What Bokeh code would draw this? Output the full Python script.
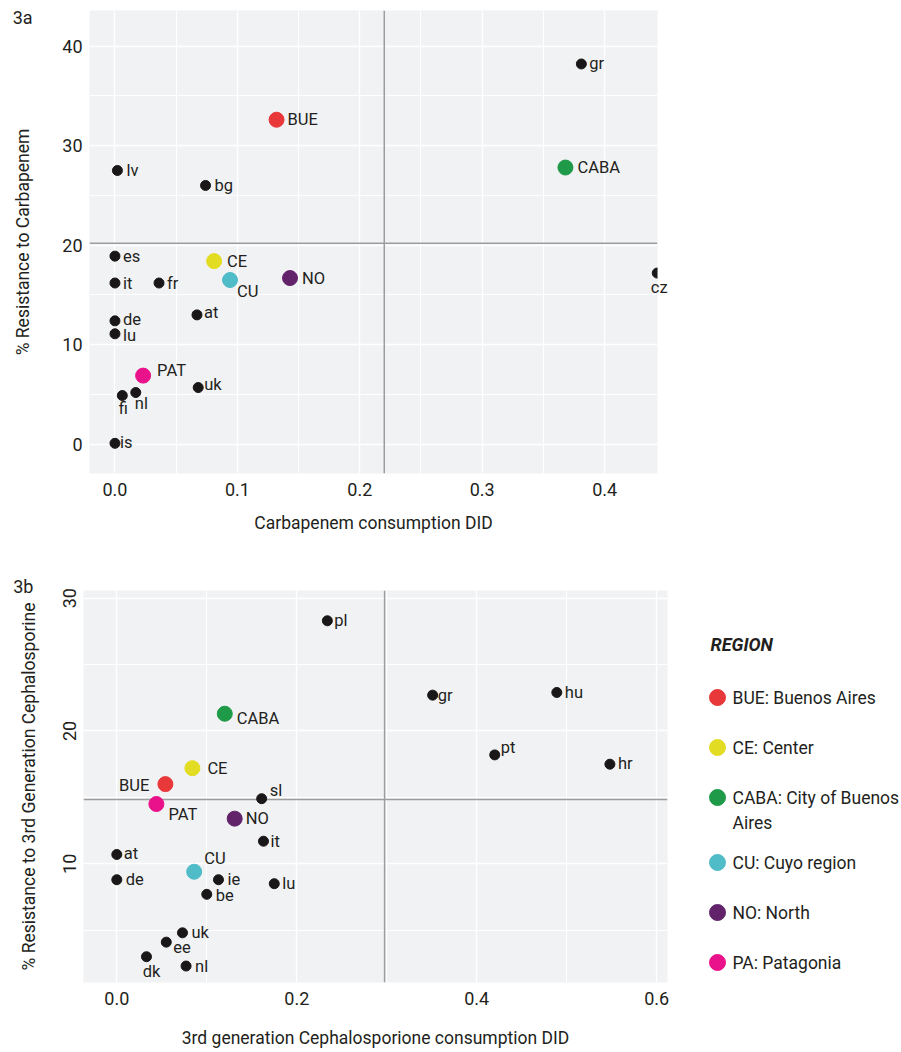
import textwrap
from bokeh.plotting import figure
from bokeh.models import (ColumnDataSource, LabelSet, Label, Span, FixedTicker,
                          NumeralTickFormatter, Range1d)
from bokeh.layouts import column, row
from bokeh.core.properties import value
from bokeh.embed import file_html
from bokeh.resources import INLINE

# ---------------- data ----------------
# Figure 3a: Carbapenem
eu_a_codes = ["gr", "lv", "bg", "cz", "es", "it", "fr", "at", "de", "lu", "uk", "fi", "nl", "is"]
eu_a_x = [0.381, 0.002, 0.074, 0.443, 0.0, 0.0, 0.036, 0.067, 0.0, 0.0, 0.068, 0.006, 0.017, 0.0]
eu_a_y = [38.2, 27.5, 26.0, 17.2, 18.9, 16.2, 16.2, 13.0, 12.4, 11.1, 5.7, 4.9, 5.2, 0.1]
ar_a_codes = ["BUE", "CABA", "CE", "CU", "NO", "PAT"]
ar_a_x = [0.132, 0.368, 0.081, 0.094, 0.143, 0.023]
ar_a_y = [32.6, 27.8, 18.4, 16.5, 16.7, 6.9]
ref_a_x = 0.22
ref_a_y = 20.2
xticks_a = [0.0, 0.1, 0.2, 0.3, 0.4]
xminor_a = [0.05, 0.15, 0.25, 0.35]
yticks_a = [0, 10, 20, 30, 40]
yminor_a = [5, 15, 25, 35]

# Figure 3b: 3rd generation Cephalosporine
eu_b_codes = ["pl", "gr", "hu", "pt", "hr", "sl", "it", "at", "de", "ie", "lu", "be", "uk", "ee", "dk", "nl"]
eu_b_x = [0.234, 0.351, 0.489, 0.420, 0.548, 0.161, 0.163, 0.0, 0.0, 0.113, 0.175, 0.100, 0.073, 0.055, 0.033, 0.077]
eu_b_y = [28.3, 22.7, 22.9, 18.2, 17.5, 14.9, 11.7, 10.7, 8.8, 8.8, 8.5, 7.7, 4.8, 4.1, 3.0, 2.3]
ar_b_codes = ["CABA", "CE", "BUE", "PAT", "NO", "CU"]
ar_b_x = [0.120, 0.084, 0.054, 0.044, 0.131, 0.086]
ar_b_y = [21.3, 17.2, 16.0, 14.5, 13.4, 9.4]
ref_b_x = 0.2976
ref_b_y = 14.85
xticks_b = [0.0, 0.2, 0.4, 0.6]
xminor_b = [0.1, 0.3, 0.5]
yticks_b = [10, 20, 30]
yminor_b = [5, 15, 25]

# Regions (legend)
region_codes = ["BUE", "CE", "CABA", "CU", "NO", "PAT"]
region_labels = ["BUE: Buenos Aires", "CE: Center", "CABA: City of Buenos Aires",
                 "CU: Cuyo region", "NO: North", "PA: Patagonia"]
region_colors = ["#e8383a", "#e2dc22", "#1e9a48", "#4fbcc8", "#62236b", "#ea128a"]

# ---------------- styles ----------------
FONT = "Roboto"
INK = "#231f20"
PANEL = "#f1f2f4"
REF = "#9d9d9d"

# label placement: (dx, dy_down, align) in screen px
place_a = {"gr": (8, 0, "left"), "lv": (9, 0, "left"), "bg": (9, 0, "left"),
           "cz": (2, 14, "center"), "es": (8, 0, "left"), "it": (8, 0, "left"),
           "fr": (8, 0, "left"), "at": (7, -2, "left"), "de": (8, -1, "left"),
           "lu": (8, 2, "left"), "uk": (6, -3, "left"), "fi": (1, 13, "center"),
           "nl": (-1, 11, "left"), "is": (5, -1, "left"),
           "BUE": (11, 0, "left"), "CABA": (12, 0, "left"), "CE": (13, 0, "left"),
           "CU": (7, 11, "left"), "NO": (12, 0, "left"), "PAT": (14, -5, "left")}
place_b = {"pl": (7, 0, "left"), "gr": (5, 0, "left"), "hu": (8, 0, "left"),
           "pt": (6, -7, "left"), "hr": (8, -1, "left"), "sl": (8, -8, "left"),
           "it": (7, 0, "left"), "at": (7, -1, "left"), "de": (9, 0, "left"),
           "ie": (9, 0, "left"), "lu": (8, 0, "left"), "be": (9, 1, "left"),
           "uk": (9, 0, "left"), "ee": (7, 5, "left"), "dk": (5, 15, "center"),
           "nl": (9, 0, "left"),
           "CABA": (12, 5, "left"), "CE": (15, 0, "left"), "BUE": (-16, 1, "right"),
           "PAT": (12, 10, "left"), "NO": (11, 0, "left"), "CU": (10, -13, "left")}
# labels drawn outside the panel frame (not clipped)
edge_codes = ["cz"]


def style_axes(p, xt, xm, yt, ym, xfmt, yfmt):
    xtick = FixedTicker(ticks=xt, minor_ticks=xm)
    ytick = FixedTicker(ticks=yt, minor_ticks=ym)
    p.xaxis.ticker = xtick
    p.xgrid.ticker = xtick
    p.yaxis.ticker = ytick
    p.ygrid.ticker = ytick
    p.xaxis.formatter = NumeralTickFormatter(format=xfmt)
    p.yaxis.formatter = NumeralTickFormatter(format=yfmt)
    for ax in (p.xaxis, p.yaxis):
        ax.axis_line_color = None
        ax.major_tick_line_color = None
        ax.minor_tick_line_color = None
        ax.major_tick_out = 0
        ax.major_tick_in = 0
        ax.minor_tick_out = 0
        ax.minor_tick_in = 0
        ax.major_label_text_font = FONT
        ax.major_label_text_font_size = "18px"
        ax.major_label_text_color = INK
        ax.axis_label_text_font = FONT
        ax.axis_label_text_font_size = "17.5px"
        ax.axis_label_text_font_style = "normal"
        ax.axis_label_text_color = INK
    for g in (p.xgrid, p.ygrid):
        g.grid_line_color = "white"
        g.grid_line_width = 1.3
        g.minor_grid_line_color = "white"
        g.minor_grid_line_width = 1.0
    p.background_fill_color = PANEL
    p.border_fill_color = "white"
    p.outline_line_color = None


def add_points(p, eu_codes, eu_x, eu_y, ar_codes, ar_x, ar_y, place, refx, refy):
    p.add_layout(Span(location=refx, dimension="height", line_color=REF,
                      line_width=1.5, level="underlay"))
    p.add_layout(Span(location=refy, dimension="width", line_color=REF,
                      line_width=1.5, level="underlay"))
    p.scatter(eu_x, eu_y, size=10, color="#1a1718")
    cols = [region_colors[region_codes.index(c)] for c in ar_codes]
    p.scatter(ar_x, ar_y, size=15, color=cols)
    codes = eu_codes + ar_codes
    xs = eu_x + ar_x
    ys = eu_y + ar_y
    keep = [i for i, c in enumerate(codes) if c not in edge_codes]
    src = ColumnDataSource(dict(
        x=[xs[i] for i in keep], y=[ys[i] for i in keep],
        t=[codes[i] for i in keep],
        dx=[place[codes[i]][0] for i in keep],
        dy=[-place[codes[i]][1] for i in keep],
        al=[place[codes[i]][2] for i in keep]))
    p.add_layout(LabelSet(x="x", y="y", text="t", source=src, x_offset="dx",
                          y_offset="dy", text_align="al", text_baseline="middle",
                          text_font=value(FONT), text_font_size="16.5px",
                          text_color=INK))
    for i, c in enumerate(codes):
        if c in edge_codes:
            dx, dy, al = place[c]
            p.add_layout(Label(x=xs[i], y=ys[i], text=c, x_offset=dx, y_offset=-dy,
                               text_align=al, text_baseline="middle",
                               text_font=FONT, text_font_size="16.5px",
                               text_color=INK), "right")


# ---------------- panel 3a ----------------
pa = figure(frame_width=568, frame_height=463, x_range=Range1d(-0.0208, 0.4432),
            y_range=Range1d(-2.93, 43.57), output_backend="svg", toolbar_location=None,
            min_border_left=89, min_border_right=244, min_border_top=10,
            min_border_bottom=61,
            x_axis_label="Carbapenem consumption DID",
            y_axis_label="% Resistance to Carbapenem")
style_axes(pa, xticks_a, xminor_a, yticks_a, yminor_a, "0.0", "0")
pa.yaxis.major_label_standoff = 7
pa.yaxis.axis_label_standoff = 26
pa.xaxis.major_label_standoff = 9
pa.xaxis.axis_label_standoff = 14
add_points(pa, eu_a_codes, eu_a_x, eu_a_y, ar_a_codes, ar_a_x, ar_a_y, place_a,
           ref_a_x, ref_a_y)
pa.add_layout(Label(x=-0.0835, y=42.86, text="3a", text_align="left",
                    text_baseline="middle", text_font=FONT, text_font_size="18px",
                    text_color=INK), "right")

# ---------------- panel 3b ----------------
FB_TOP, FB_H, FB_BOT = 55, 392, 68
pb = figure(frame_width=584, frame_height=FB_H, x_range=Range1d(-0.037, 0.612),
            y_range=Range1d(1.06, 30.58), output_backend="svg", toolbar_location=None,
            min_border_left=83, min_border_right=5, min_border_top=FB_TOP,
            min_border_bottom=FB_BOT,
            x_axis_label="3rd generation Cephalosporione consumption DID",
            y_axis_label="% Resistance to 3rd Generation Cephalosporine")
style_axes(pb, xticks_b, xminor_b, yticks_b, yminor_b, "0.0", "0")
pb.yaxis.major_label_orientation = "vertical"
pb.yaxis.major_label_standoff = 7
pb.yaxis.axis_label_standoff = 22
pb.xaxis.major_label_standoff = 9
pb.xaxis.axis_label_standoff = 20
add_points(pb, eu_b_codes, eu_b_x, eu_b_y, ar_b_codes, ar_b_x, ar_b_y, place_b,
           ref_b_x, ref_b_y)
pb.add_layout(Label(x=-0.1152, y=30.88, text="3b", text_align="left",
                    text_baseline="middle", text_font=FONT, text_font_size="18px",
                    text_color=INK), "above")

# ---------------- legend (frame aligned with panel 3b frame) ----------------
LW = 229
pl = figure(frame_width=LW, frame_height=FB_H, x_range=Range1d(0, LW),
            y_range=Range1d(FB_H, 0), output_backend="svg", toolbar_location=None,
            min_border_left=0, min_border_right=0, min_border_top=FB_TOP,
            min_border_bottom=FB_BOT, x_axis_type=None, y_axis_type=None)
pl.grid.visible = False
pl.outline_line_color = None
pl.background_fill_color = "white"
pl.border_fill_color = "white"

item_y = []
txt_x, txt_y, txt_t = [], [], []
cur = 107
for lab in region_labels:
    lines = textwrap.wrap(lab, 21)
    item_y.append(cur)
    for k, ln in enumerate(lines):
        txt_x.append(60)
        txt_y.append(cur + 25 * k)
        txt_t.append(ln)
    cur += 50 + 15 * (len(lines) - 1)
pl.scatter([45] * len(region_labels), item_y, size=16, color=region_colors)
pl.text(txt_x, txt_y, text=txt_t, text_font=value(FONT),
        text_font_size=value("17.5px"), text_baseline="middle", text_color=INK)
pl.text([38], [54], text=["REGION"], text_font=value(FONT),
        text_font_size=value("18px"), text_font_style="bold italic",
        text_baseline="middle", text_color=INK)

layout = column(pa, row(pb, pl))
open("out.html", "w").write(file_html(layout, INLINE))
